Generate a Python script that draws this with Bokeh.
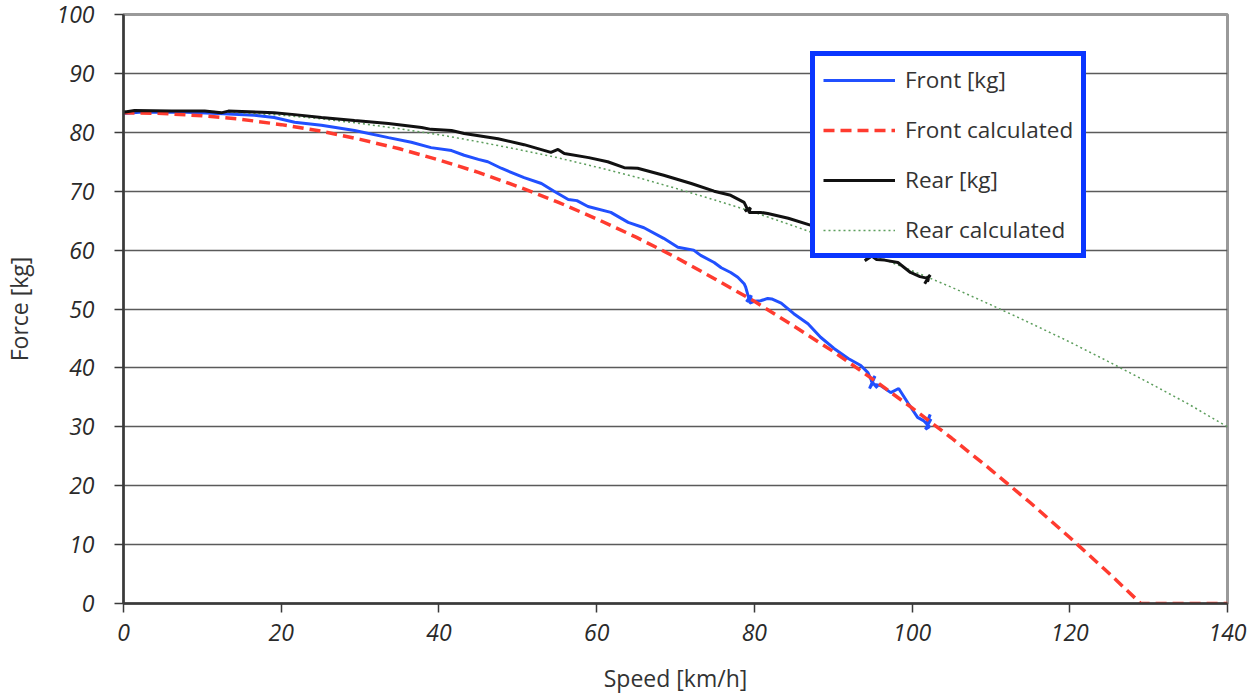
from bokeh.plotting import figure
from bokeh.models import Range1d, SingleIntervalTicker, Legend, LegendItem
from bokeh.embed import file_html
from bokeh.resources import INLINE

# ---- data ----
front_speed = [0, 2, 4, 8, 12, 16.6, 19.1, 21.7, 25.1, 29.3, 33.6, 36.5, 39.0, 41.6, 43.2,
               45.0, 46.2, 47.9, 50.8, 53.0, 54.6, 56.4, 57.5, 58.9, 61.8, 64.0, 66.0,
               68.5, 70.3, 72.3, 73.2, 74.9, 75.8, 77.0, 77.9, 78.7, 78.9, 79.3, 79.0,
               79.6, 79.4, 80.0, 80.8, 81.7, 82.2, 83.4, 85.0, 86.8, 88.4, 90.1, 91.9,
               93.5, 94.4, 95.0, 94.6, 95.3, 94.8, 95.6, 95.2, 96.0, 97.3, 98.3, 99.5,
               100.7, 101.5, 102.2, 101.7, 102.4, 101.8, 102.3, 102.0]
front_force = [83.2, 83.4, 83.4, 83.4, 83.2, 82.9, 82.5, 81.7, 81.2, 80.3, 79.1, 78.3, 77.4,
               76.9, 76.1, 75.4, 75.0, 73.9, 72.3, 71.3, 70.0, 68.6, 68.4, 67.4, 66.4,
               64.7, 63.8, 62.0, 60.5, 60.0, 59.1, 57.9, 57.0, 56.2, 55.4, 54.3, 53.7,
               51.8, 51.2, 52.3, 51.0, 51.3, 51.4, 51.8, 51.7, 51.0, 49.2, 47.5, 45.2,
               43.3, 41.6, 40.4, 39.2, 37.4, 36.5, 38.6, 37.8, 36.6, 37.2, 37.0, 35.8,
               36.5, 34.0, 31.6, 31.0, 30.0, 29.6, 31.3, 30.5, 32.1, 31.0]

front_calc_speed = [0, 5, 10, 15, 20, 25, 30, 35, 40, 45, 50, 55, 60, 65, 70, 75, 80, 85,
                    90, 95, 100, 105, 110, 115, 120, 125, 129, 140]
front_calc_force = [83.3, 83.2, 82.8, 82.2, 81.3, 80.2, 78.8, 77.2, 75.3, 73.2, 70.8, 68.2,
                    65.3, 62.2, 58.8, 55.1, 51.3, 47.1, 42.8, 38.1, 33.2, 28.1, 22.7, 17.1,
                    11.2, 5.1, 0.0, 0.0]

rear_speed = [0, 1.4, 6.1, 10.3, 12.4, 13.3, 17.5, 19.1, 21.7, 25.1, 29.3, 33.6, 37.8, 39.0,
              41.6, 43.2, 47.5, 50.8, 54.2, 55.1, 55.9, 59.0, 61.4, 63.5, 65.2, 68.5, 72.0,
              74.9, 77.0, 78.7, 79.1, 78.8, 79.5, 79.3, 80.8, 81.7, 84.3, 87.2, 89.5, 91.5,
              93.5, 94.4, 94.0, 94.9, 95.5, 96.5, 98.2, 99.8, 101.0, 102.0, 101.6, 102.3,
              101.8, 102.2]
rear_force = [83.4, 83.7, 83.6, 83.6, 83.3, 83.6, 83.4, 83.3, 83.0, 82.5, 82.0, 81.5, 80.8,
              80.5, 80.3, 79.8, 78.9, 77.9, 76.6, 77.1, 76.4, 75.7, 75.0, 74.0, 73.9, 72.7,
              71.3, 70.0, 69.3, 68.1, 67.0, 66.6, 67.2, 66.4, 66.4, 66.2, 65.4, 64.2, 62.8,
              61.2, 59.5, 58.6, 58.2, 59.0, 58.4, 58.3, 57.9, 56.2, 55.5, 55.2, 54.3, 55.8,
              55.0, 54.8]

rear_calc_speed = [0, 5, 10, 15, 20, 25, 30, 35, 40, 45, 50, 55, 60, 65, 70, 75, 80, 85, 90,
                   95, 100, 105, 110, 115, 120, 125, 130, 135, 140]
rear_calc_force = [83.6, 83.6, 83.6, 83.3, 82.9, 82.3, 81.5, 80.6, 79.6, 78.4, 77.1, 75.7,
                   74.1, 72.4, 70.5, 68.5, 66.4, 64.1, 61.7, 59.2, 56.5, 53.7, 50.7, 47.6,
                   44.4, 41.0, 37.5, 33.9, 30.0]

series_names = ["Front [kg]", "Front calculated", "Rear [kg]", "Rear calculated"]
x_title = "Speed [km/h]"
y_title = "Force [kg]"

# ---- figure ----
p = figure(width=1259, height=696, x_range=Range1d(0, 140), y_range=Range1d(0, 100),
           output_backend="svg", toolbar_location=None,
           min_border_left=122, min_border_right=32, min_border_top=14, min_border_bottom=93)
p.background_fill_color = "white"
p.border_fill_color = "white"
p.outline_line_color = "#9a9a9a"
p.outline_line_width = 3

p.xgrid.visible = False
p.ygrid.grid_line_color = "#5a5a5a"
p.ygrid.grid_line_width = 1.6

p.xaxis.ticker = SingleIntervalTicker(interval=20, num_minor_ticks=0)
p.yaxis.ticker = SingleIntervalTicker(interval=10, num_minor_ticks=0)

for ax in (p.xaxis[0], p.yaxis[0]):
    ax.axis_line_color = "#3a3a3a"
    ax.axis_line_width = 2.5
    ax.major_tick_line_color = "#3a3a3a"
    ax.major_tick_line_width = 1.5
    ax.major_tick_out = 9
    ax.major_tick_in = 0
    ax.minor_tick_line_color = None
    ax.major_label_text_font = "Open Sans"
    ax.major_label_text_font_style = "italic"
    ax.major_label_text_font_size = "23px"
    ax.major_label_text_color = "#2a2a2a"
    ax.axis_label_text_font = "Open Sans"
    ax.axis_label_text_font_style = "normal"
    ax.axis_label_text_font_size = "23px"
    ax.axis_label_text_color = "#333333"

p.xaxis.axis_label = x_title
p.yaxis.axis_label = y_title
p.xaxis.major_label_standoff = 11
p.yaxis.major_label_standoff = 20
p.xaxis.axis_label_standoff = 18
p.yaxis.axis_label_standoff = 18

r_front = p.line(front_speed, front_force, line_color="#2150ff", line_width=3)
r_front_calc = p.line(front_calc_speed, front_calc_force, line_color="#ff3b2f",
                      line_width=3.5, line_dash="11 6")
r_rear_calc = p.line(rear_calc_speed, rear_calc_force, line_color="#5d9e5d",
                     line_width=1.5, line_dash="2 3")
r_rear = p.line(rear_speed, rear_force, line_color="#111111", line_width=3)

legend = Legend(items=[
    LegendItem(label=series_names[0], renderers=[r_front]),
    LegendItem(label=series_names[1], renderers=[r_front_calc]),
    LegendItem(label=series_names[2], renderers=[r_rear]),
    LegendItem(label=series_names[3], renderers=[r_rear_calc]),
], location=(687, 345))
legend.border_line_color = "#0a36ff"
legend.border_line_alpha = 1.0
legend.border_line_width = 5
legend.background_fill_color = "white"
legend.background_fill_alpha = 1
legend.label_text_font = "Open Sans"
legend.label_text_font_size = "22.5px"
legend.label_text_color = "#333333"
legend.glyph_width = 72
legend.glyph_height = 30
legend.label_height = 30
legend.label_standoff = 10
legend.spacing = 19
legend.padding = 8
legend.margin = 0
p.add_layout(legend)

open("out.html", "w").write(file_html(p, INLINE))
